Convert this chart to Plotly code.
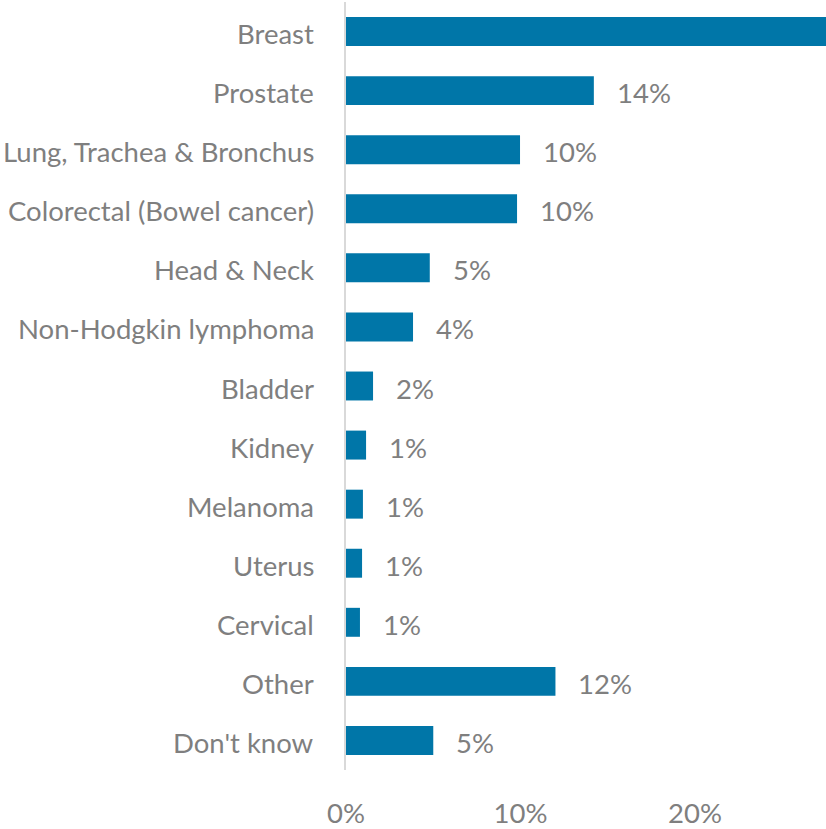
import plotly.graph_objects as go

# Cancer types (top to bottom) and share of respondents (%)
categories = [
    "Breast", "Prostate", "Lung, Trachea & Bronchus", "Colorectal (Bowel cancer)",
    "Head & Neck", "Non-Hodgkin lymphoma", "Bladder", "Kidney", "Melanoma",
    "Uterus", "Cervical", "Other", "Don't know",
]
values = [31.0, 14.2, 9.97, 9.8, 4.8, 3.84, 1.55, 1.15, 0.97, 0.92, 0.8, 12.0, 5.0]
tick_vals = [0, 10, 20]
tick_text = ["0%", "10%", "20%"]

BAR = "#0076A8"
GREY = "#7F7F7F"
FONT = "Lato"
SIZE = 27.5

fig = go.Figure(
    go.Bar(
        x=values,
        y=categories,
        orientation="h",
        marker=dict(color=BAR, line=dict(width=0)),
        width=0.49,
        hoverinfo="skip",
    )
)

label_font = dict(family=FONT, size=SIZE, color=GREY)

for cat, v in zip(categories, values):
    # category name, right-aligned left of the axis line
    fig.add_annotation(
        x=0, y=cat, xref="paper", yref="y",
        text=cat, showarrow=False,
        xanchor="right", xshift=-30, yshift=-2,
        font=label_font,
    )
    # value label to the right of each bar
    fig.add_annotation(
        x=v, y=cat, xref="x", yref="y",
        text=f"{v:.0f}%", showarrow=False,
        xanchor="left", xshift=21, yshift=-2,
        font=label_font,
    )

fig.update_layout(
    width=826, height=829,
    margin=dict(l=346, r=0, t=2, b=56),
    paper_bgcolor="white", plot_bgcolor="white",
    showlegend=False,
    font=label_font,
    xaxis=dict(
        range=[0, 27.5],
        tickvals=tick_vals, ticktext=tick_text,
        showgrid=False, zeroline=False, showline=False,
        ticks="", ticklabelstandoff=24,
        tickfont=label_font,
        fixedrange=True,
    ),
    yaxis=dict(
        categoryorder="array", categoryarray=categories[::-1],
        showgrid=False, zeroline=False,
        showline=True, linecolor="#D9D9D9", linewidth=1.5,
        ticks="", showticklabels=False,
        fixedrange=True,
    ),
)

fig.write_html("out.html")
